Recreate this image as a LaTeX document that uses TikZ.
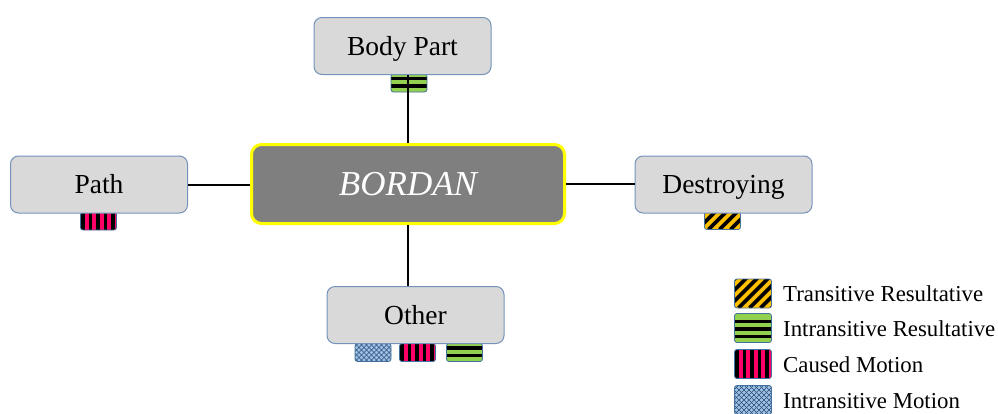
\documentclass[tikz,border=0pt]{standalone}
\usepackage{fontspec}
\setmainfont{Liberation Serif}
\definecolor{boxg}{HTML}{D9D9D9}
\definecolor{boxb}{HTML}{7393BA}
\definecolor{hubg}{HTML}{7F7F7F}
\definecolor{hubb}{HTML}{FFFF00}
\definecolor{patchb}{HTML}{41719C}
\definecolor{porange}{HTML}{FFC000}
\definecolor{pgreen}{HTML}{92D050}
\definecolor{pred}{HTML}{FF0066}
\definecolor{pblue}{HTML}{9DC3E6}
\definecolor{pnavy}{HTML}{2E4A78}
\tikzset{
  box/.style={draw=boxb, line width=1pt, fill=boxg, rounded corners=8pt,
    minimum width=177pt, minimum height=57pt, inner sep=0pt,
    text height=18pt, text depth=0pt,
    font=\fontsize{27.5}{30}\selectfont},
  hub/.style={draw=hubb, line width=3pt, fill=hubg, rounded corners=10pt,
    minimum width=313pt, minimum height=79pt, inner sep=0pt, text=white,
    text height=23pt, text depth=0pt,
    font=\fontsize{35}{40}\selectfont\itshape},
  conn/.style={draw=black, line width=2pt},
  patch/.style={draw=patchb, line width=0.8pt, rounded corners=2.5pt, inner sep=0pt,
    minimum width=36pt, minimum height=18pt},
  lpatch/.style={minimum width=37pt, minimum height=29pt},
  trans/.style={patch, fill=porange, path picture={
    \foreach \k in {-40,-29,...,40}
      \draw[black, line width=3.6pt] ([xshift=\k pt]path picture bounding box.south west) -- ++(45pt,45pt);}},
  iresult/.style={patch, fill=pgreen, path picture={
    \foreach \k in {6,13.5,21}
      \draw[black, line width=3.8pt] ([yshift=\k pt]path picture bounding box.south west) -- ([yshift=\k pt]path picture bounding box.south east);}},
  caused/.style={patch, fill=pred, path picture={
    \foreach \k in {2.5,10,...,40}
      \draw[black, line width=3.6pt] ([xshift=\k pt]path picture bounding box.south west) -- ([xshift=\k pt]path picture bounding box.north west);}},
  imotion/.style={patch, fill=pblue, path picture={
    \foreach \k in {-40,-35,...,40} {
      \draw[pnavy, line width=0.6pt] ([xshift=\k pt]path picture bounding box.south west) -- ++(45pt,45pt);
      \draw[pnavy, line width=0.6pt] ([xshift=\k pt]path picture bounding box.north west) -- ++(45pt,-45pt);}}},
  legtext/.style={anchor=base west, inner sep=0pt, font=\fontsize{22.8}{26}\selectfont}
}
\begin{document}
\begin{tikzpicture}[x=1pt,y=-1pt]
\useasboundingbox (0,0) rectangle (998,413);
% patches under the boxes
\node[iresult] (pbody) at (409,83) {};
\node[caused] (ppath) at (98.5,221) {};
\node[trans] (pdes) at (722.5,220.5) {};
\node[imotion] (poth1) at (373,352.5) {};
\node[caused] (poth2) at (417.5,352.5) {};
\node[iresult] (poth3) at (464.5,352.5) {};
% boxes
\node[box] (body) at (402.5,46) {Body Part};
\node[box] (path) at (99,184.5) {Path};
\node[box] (des) at (723.5,184.5) {Destroying};
\node[box] (oth) at (415.5,315) {Other};
\node[hub] (hub) at (408,184) {BORDAN};
% connectors
\draw[conn] (hub.north) -- (hub.north |- body.south);
\draw[conn] (hub.south) -- (hub.south |- oth.north);
\draw[conn] (path.east) -- (path.east -| hub.west);
\draw[conn] (hub.east) -- (hub.east -| des.west);
% legend
\node[trans, lpatch] (l1) at (753,293.5) {};
\node[iresult, lpatch] (l2) at (753,328) {};
\node[caused, lpatch] (l3) at (753,364) {};
\node[imotion, lpatch] (l4) at (753,400) {};
\node[legtext] (t1) at (783,301) {Transitive Resultative};
\node[legtext] (t2) at (783,336) {Intransitive Resultative};
\node[legtext] (t3) at (783,372) {Caused Motion};
\node[legtext] (t4) at (783,408) {Intransitive Motion};
\end{tikzpicture}
\end{document}
